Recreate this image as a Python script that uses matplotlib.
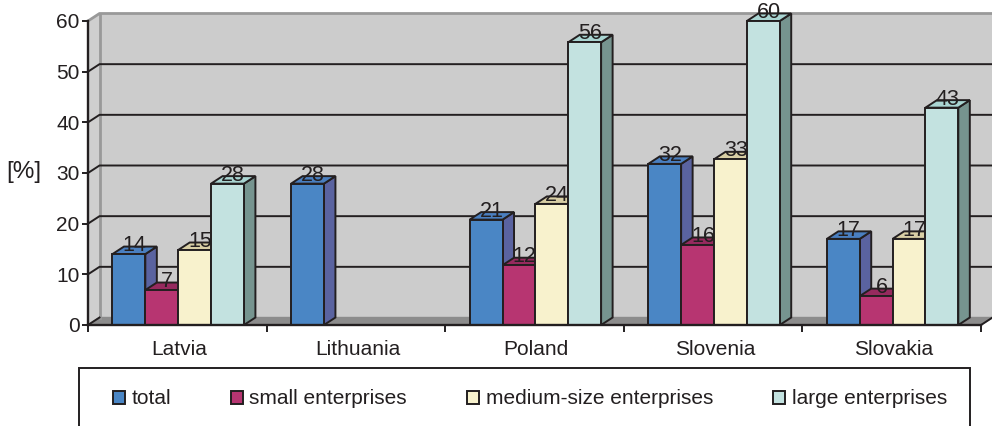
import matplotlib

matplotlib.use("Agg")
import matplotlib.pyplot as plt
from matplotlib.patches import Patch, Rectangle

plt.rcParams["font.family"] = ["Liberation Sans", "DejaVu Sans"]

countries = ["Latvia", "Lithuania", "Poland", "Slovenia", "Slovakia"]
series_names = ["total", "small enterprises", "medium-size enterprises", "large enterprises"]
total = [14, 27.9, 20.8, 31.8, 17]
small = [6.9, None, 11.8, 15.8, 5.7]
medium = [14.8, None, 23.9, 32.7, 17]
large = [27.9, None, 55.8, 60, 42.9]

front_colors = ["#4a86c5", "#b73571", "#f8f2cd", "#c3e2e0"]
top_colors = ["#4a7fc0", "#962a5e", "#d9cfa5", "#a9d5d2"]
side_colors = ["#5a63a0", "#7d2450", "#b0a985", "#76948f"]

INK = "#231f20"
W, H = 992, 426
FS = 15
LW = 1.4

fig = plt.figure(figsize=(W / 100, H / 100), dpi=100)
ax = fig.add_axes([88 / W, 1 - 325 / H, (981 - 88) / W, (325 - 21) / H])
ax.set_xlim(0, 5)
ax.set_ylim(0, 60)
ax.patch.set_visible(False)

# depth of the fake 3D box, in data units
dx = 11.5 / (893 / 5)
dy = 7.5 / (304 / 60)

# walls and floor
ax.fill([dx, 5 + dx, 5 + dx, dx], [dy, dy, 60 + dy, 60 + dy], color="#cccccc", zorder=0, clip_on=False)
ax.fill([0, dx, dx, 0], [0, dy, 60 + dy, 60], color="#cfcfcf", zorder=0, clip_on=False)
ax.fill([0, 5, 5 + dx, dx], [0, 0, dy, dy], color="#8c8c8c", zorder=0.5, clip_on=False)
ax.plot([0, dx, 5 + dx], [60, 60 + dy, 60 + dy], color="#999999", lw=2, zorder=1, clip_on=False)
ax.plot([dx, dx], [dy, 60 + dy], color="#999999", lw=2, zorder=1, clip_on=False)

for v in range(10, 60, 10):
    ax.plot([0, dx, 5 + dx], [v, v + dy, v + dy], color=INK, lw=LW, zorder=1, clip_on=False)
ax.plot([0, dx], [0, dy], color=INK, lw=LW, zorder=1, clip_on=False)
ax.plot([5, 5 + dx], [0, dy], color=INK, lw=LW, zorder=1, clip_on=False)

bar_w = 0.184
start = 0.137

for s, values in enumerate([total, small, medium, large]):
    z = 3 + s
    for c, val in enumerate(values):
        if val is None:
            continue
        x0 = c + start + s * bar_w
        x1 = x0 + bar_w
        ax.fill([x1, x1 + dx, x1 + dx, x1], [0, dy, val + dy, val], facecolor=side_colors[s],
                edgecolor=INK, lw=LW, zorder=z, clip_on=False)
        ax.fill([x0, x1, x1 + dx, x0 + dx], [val, val, val + dy, val + dy], facecolor=top_colors[s],
                edgecolor=INK, lw=LW, zorder=z, clip_on=False)
        ax.bar(x0, val, bar_w, align="edge", color=front_colors[s], edgecolor=INK, lw=LW,
               zorder=z, clip_on=False)
        ax.text(x0 + bar_w / 2 + 0.03, val + 1.65, f"{val:.0f}", ha="center", va="center",
                fontsize=FS + 0.5, color=INK, zorder=z, clip_on=False)

for side in ["top", "right"]:
    ax.spines[side].set_visible(False)
for side in ["left", "bottom"]:
    ax.spines[side].set_color(INK)
    ax.spines[side].set_linewidth(1.7)
    ax.spines[side].set_zorder(8)

ax.set_yticks(range(0, 70, 10))
ax.tick_params(axis="y", length=4.5, width=LW, color=INK, labelcolor=INK, labelsize=FS, pad=1.5)
ax.set_xticks(range(6))
ax.set_xticklabels([])
ax.set_xticks([i + 0.51 for i in range(5)], countries, minor=True)
ax.tick_params(axis="x", which="major", length=5, width=LW, color=INK)
ax.tick_params(axis="x", which="minor", length=0, labelcolor=INK, labelsize=FS, pad=11)

fig.text(23.5 / W, 1 - 172 / H, "[%]", ha="center", va="center", fontsize=17.5, color=INK)

# legend box runs off the bottom of the figure
fig.add_artist(Rectangle((79 / W, 1 - 430 / H), (970 - 79) / W, 62 / H, transform=fig.transFigure,
                         facecolor="white", edgecolor=INK, lw=LW))
handles = [Patch(facecolor=front_colors[i], edgecolor=INK, lw=LW, label=series_names[i]) for i in range(4)]
fig.legend(handles=handles, loc="center left", bbox_to_anchor=(112.5 / W, 1 - 399 / H), ncol=4, frameon=False,
           fontsize=FS, labelcolor=INK, borderpad=0, borderaxespad=0, handlelength=0.6, handleheight=0.6,
           handletextpad=0.3, columnspacing=2.87)

fig.savefig("out.png", dpi=100)
